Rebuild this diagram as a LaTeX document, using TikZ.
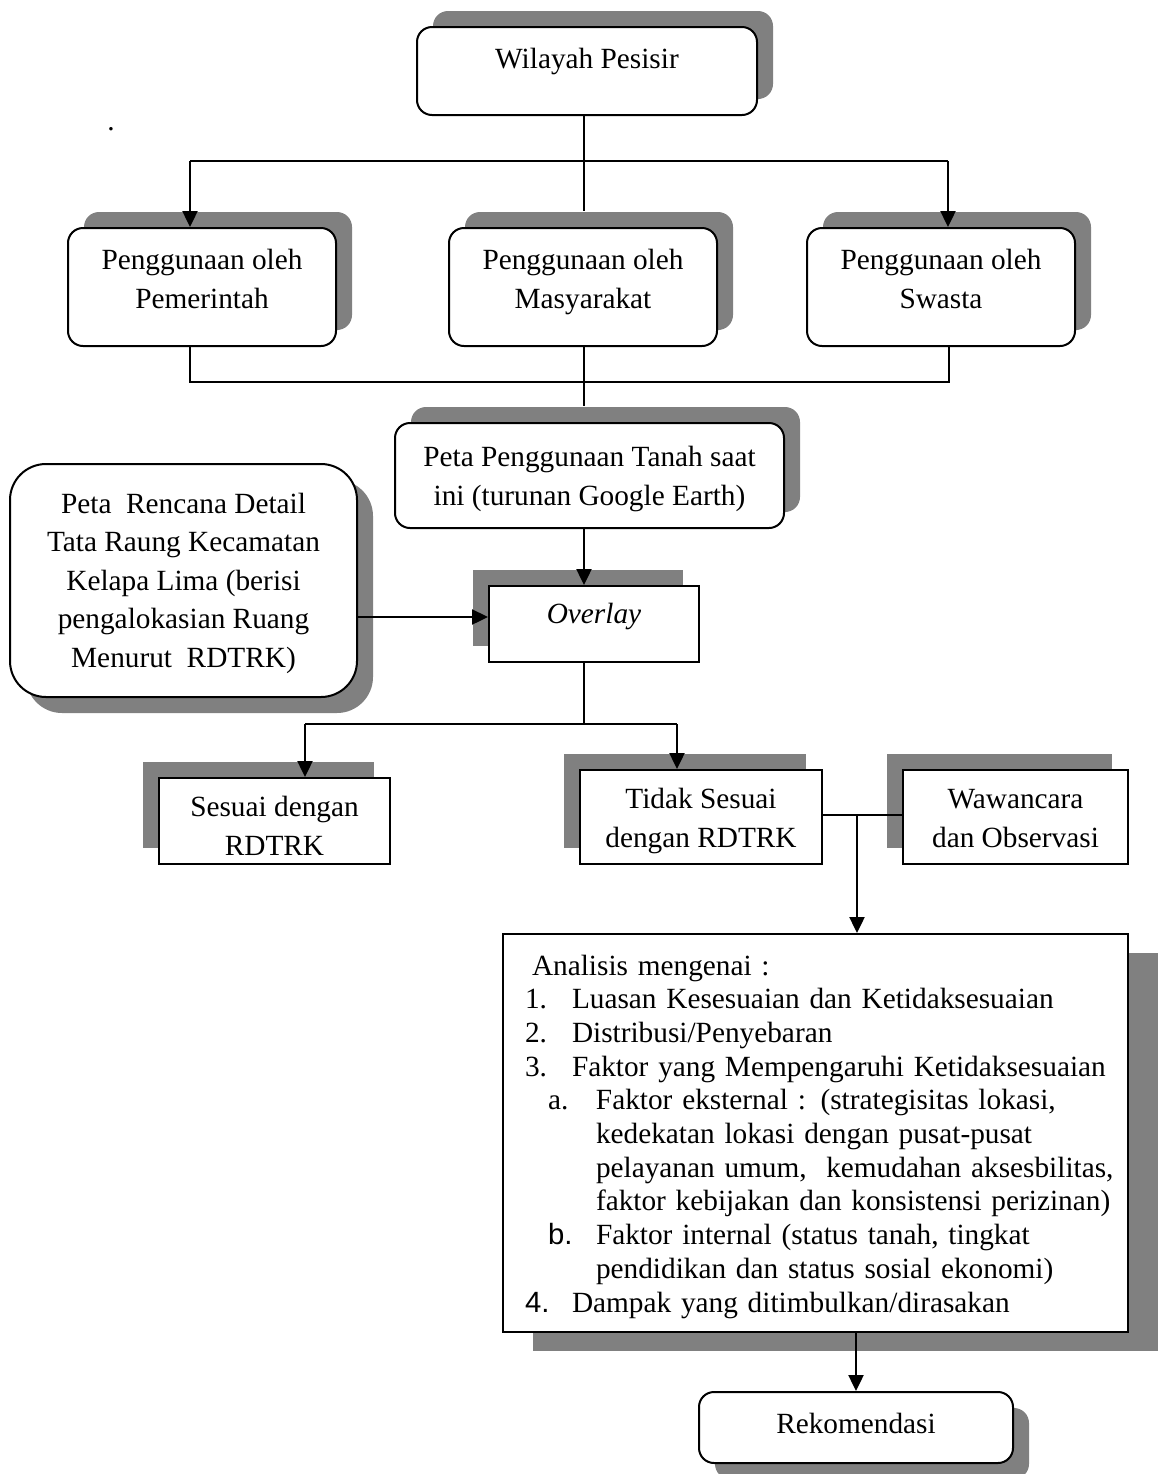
\documentclass[tikz,border=0pt]{standalone}
\usepackage{fontspec}
\setmainfont{Liberation Serif}
\newfontfamily\arialfont{Liberation Sans}
\usetikzlibrary{arrows.meta,shadows}
\definecolor{shadowgray}{RGB}{128,128,128}

\tikzset{
	roundbox/.style={draw, line width=1pt, rounded corners=7.5pt, fill=white, align=center, inner sep=0pt},
	plainbox/.style={draw, line width=1pt, fill=white, align=center, inner sep=0pt},
	shadowur/.style={general shadow={fill=shadowgray, shadow xshift=8pt, shadow yshift=8pt}},
	shadowul/.style={general shadow={fill=shadowgray, shadow xshift=-8pt, shadow yshift=8pt}},
	shadowdr/.style={general shadow={fill=shadowgray, shadow xshift=8pt, shadow yshift=-8pt}},
	arr/.style={-{Triangle[length=8pt,width=7.5pt]}},
	conn/.style={line width=1.2pt}
}

\begin{document}
\begin{tikzpicture}[x=0.5pt, y=-0.5pt, font=\fontsize{14.65}{19.25}\selectfont]
	\useasboundingbox (0,0) rectangle (1165,1474);

	% atas
	\node[roundbox, shadowur, minimum width=170pt, minimum height=44pt, text height=8pt, text depth=11pt] (wilayah) at (587,71) {Wilayah Pesisir};
	\node (titik) at (111,129) {.};

	\node[roundbox, shadowur, minimum width=134pt, minimum height=59pt, text height=21pt, text depth=0pt] (pemerintah) at (202,287) {Penggunaan oleh\\Pemerintah};
	\node[roundbox, shadowur, minimum width=134pt, minimum height=59pt, text height=21pt, text depth=0pt] (masyarakat) at (583,287) {Penggunaan oleh\\Masyarakat};
	\node[roundbox, shadowur, minimum width=134pt, minimum height=59pt, text height=21pt, text depth=0pt] (swasta) at (941,287) {Penggunaan oleh\\Swasta};

	% tengah
	\node[roundbox, shadowur, minimum width=194.5pt, minimum height=52.5pt, text height=29.5pt, text depth=0pt] (petaguna) at (589.5,475.5) {Peta Penggunaan Tanah saat\\ini (turunan Google Earth)};
	\node[roundbox, shadowdr, rounded corners=18pt, minimum width=173.5pt, minimum height=116.5pt, text height=86.5pt, text depth=0pt] (rencana) at (183.5,580.5) {Peta\ \ Rencana Detail\\Tata Raung Kecamatan\\Kelapa Lima (berisi\\pengalokasian Ruang\\Menurut\ \ RDTRK)};
	\node[plainbox, shadowul, minimum width=105pt, minimum height=38pt, text height=10pt, text depth=11pt] (overlay) at (594,624) {\textit{Overlay}};

	\node[plainbox, shadowul, minimum width=115.5pt, minimum height=43pt, text height=34pt, text depth=0pt] (sesuai) at (274.5,821) {Sesuai dengan\\RDTRK};
	\node[plainbox, shadowul, minimum width=121pt, minimum height=47pt, text height=30pt, text depth=0pt] (tidak) at (701,817) {Tidak Sesuai\\dengan RDTRK};
	\node[plainbox, shadowul, minimum width=112.5pt, minimum height=47pt, text height=30pt, text depth=0pt] (wawancara) at (1015.5,817) {Wawancara\\dan Observasi};

	% bawah
	\node[plainbox, general shadow={fill=shadowgray, shadow xshift=15pt, shadow yshift=-9.5pt}, minimum width=312.5pt, minimum height=199pt, text width=300pt, inner xsep=6.25pt, align=left, text height=0pt, text depth=158pt, font=\fontsize{14.65}{16.85}\selectfont] (analisis) at (815.5,1133) {%
		\hspace*{8.25pt}Analisis mengenai :\\
		\hspace*{4.75pt}\makebox[23.5pt][l]{1.}Luasan Kesesuaian dan Ketidaksesuaian\\
		\hspace*{4.75pt}\makebox[23.5pt][l]{2.}Distribusi/Penyebaran\\
		\hspace*{4.75pt}\makebox[23.5pt][l]{3.}Faktor yang Mempengaruhi Ketidaksesuaian\\
		\hspace*{16.25pt}\makebox[24pt][l]{a.}Faktor eksternal : (strategisitas lokasi,\\
		\hspace*{40.25pt}kedekatan lokasi dengan pusat-pusat\\
		\hspace*{40.25pt}pelayanan umum,\ \ kemudahan aksesbilitas,\\
		\hspace*{40.25pt}faktor kebijakan dan konsistensi perizinan)\\
		\hspace*{16.25pt}\makebox[24pt][l]{\arialfont b.}Faktor internal (status tanah, tingkat\\
		\hspace*{40.25pt}pendidikan dan status sosial ekonomi)\\
		\hspace*{4.75pt}\makebox[23.5pt][l]{\arialfont 4.}Dampak yang ditimbulkan/dirasakan};
	\node[roundbox, shadowdr, minimum width=157pt, minimum height=35.5pt, text height=8.5pt, text depth=3pt] (rekomendasi) at (856,1427.5) {Rekomendasi};

	% garis
	\coordinate (spine) at (584,0);
	\coordinate (bus1w) at (190,161);
	\coordinate (bus1e) at (948,161);
	\coordinate (bus2w) at (190,382);
	\coordinate (bus2e) at (949,382);
	\coordinate (bus3w) at (305,724);
	\coordinate (bus3e) at (677,724);
	\coordinate (join) at (857,815);

	\draw[conn] (wilayah.south -| spine) -- ([yshift=8pt]masyarakat.north -| spine);
	\draw[conn] (bus1w) -- (bus1e);
	\draw[conn, arr] (bus1w) -- (bus1w |- pemerintah.north);
	\draw[conn, arr] (bus1e) -- (bus1e |- swasta.north);
	\draw[conn] (pemerintah.south -| bus2w) -- (bus2w) -- (bus2e) -- (swasta.south -| bus2e);
	\draw[conn] (masyarakat.south -| spine) -- ([yshift=8pt]petaguna.north -| spine);
	\draw[conn, arr] (petaguna.south -| spine) -- (overlay.north -| spine);
	\draw[conn, arr] ([yshift=3.5pt]overlay.west -| rencana.east) -- ([yshift=3.5pt]overlay.west);
	\draw[conn] (overlay.south -| spine) -- (bus3w -| spine);
	\draw[conn] (bus3w) -- (bus3e);
	\draw[conn, arr] (bus3w) -- (bus3w |- sesuai.north);
	\draw[conn, arr] (bus3e) -- (bus3e |- tidak.north);
	\draw[conn] (tidak.east |- join) -- (wawancara.west |- join);
	\draw[conn, arr] (join) -- (join |- analisis.north);
	\draw[conn, arr] (analisis.south -| rekomendasi.north) -- (rekomendasi.north);
\end{tikzpicture}
\end{document}
